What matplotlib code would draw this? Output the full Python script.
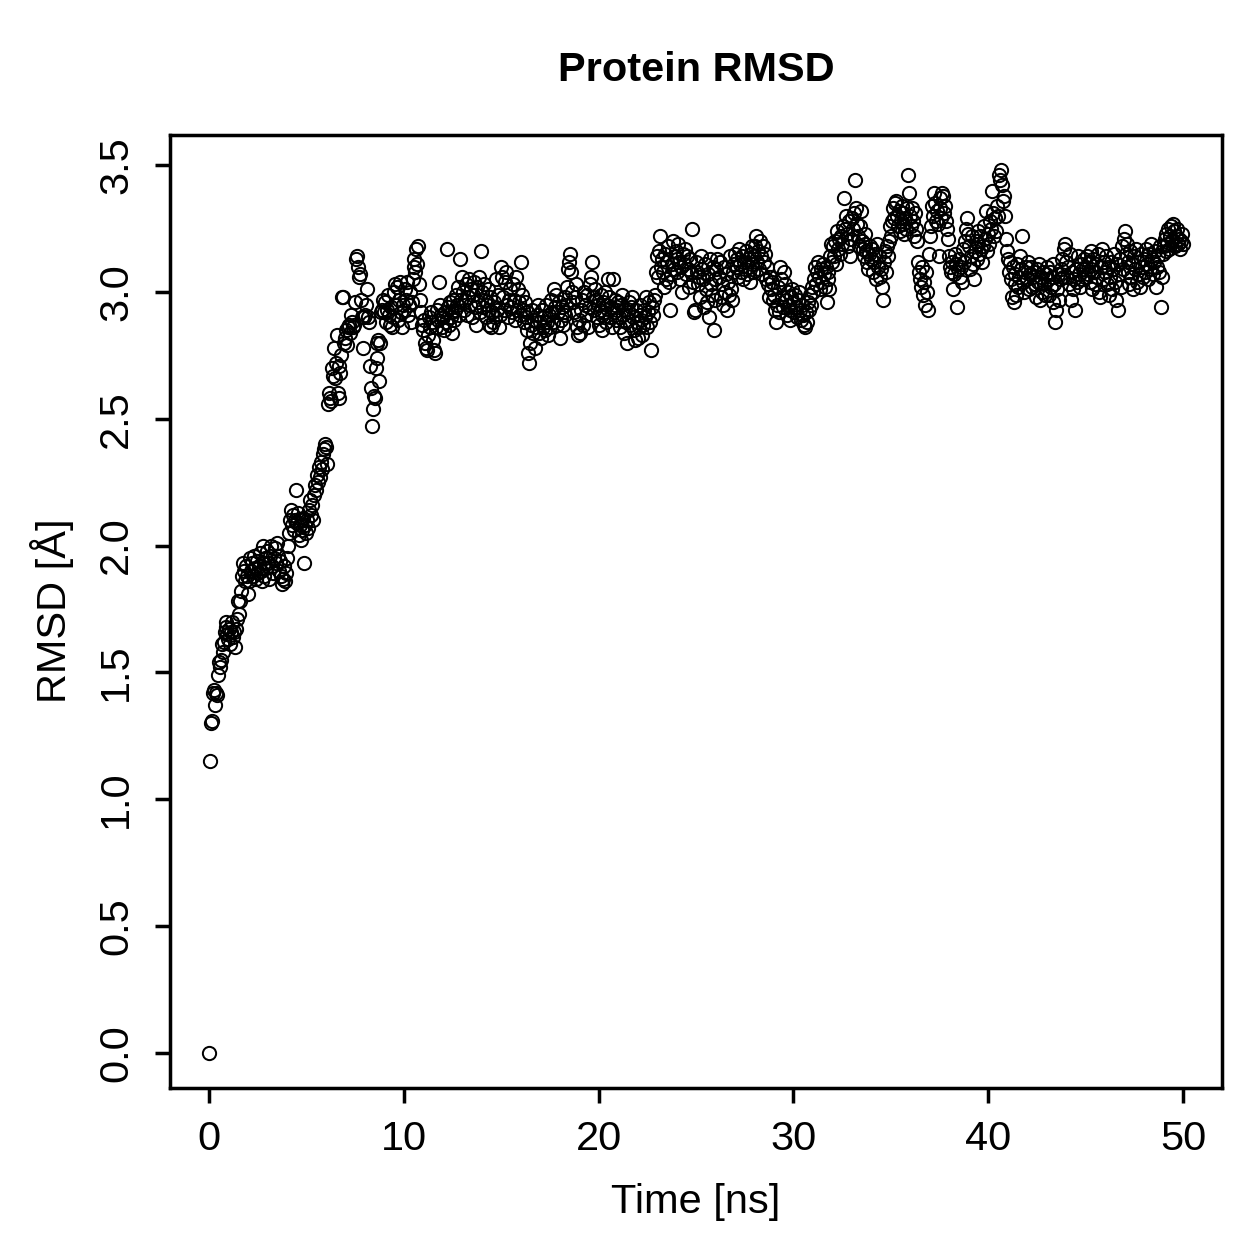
import matplotlib
matplotlib.use('Agg')
import matplotlib.pyplot as plt

plt.rcParams['font.family'] = ['Liberation Sans', 'DejaVu Sans']

# RMSD values, one row per ns (sampled every 0.05 ns)
rmsd_00_10 = [
    [0.00, 1.15, 1.30, 1.31, 1.42, 1.43, 1.37, 1.42, 1.41, 1.49, 1.54, 1.52, 1.55, 1.61, 1.58, 1.62, 1.66, 1.68, 1.70, 1.65],
    [1.63, 1.67, 1.61, 1.66, 1.70, 1.64, 1.66, 1.60, 1.67, 1.71, 1.78, 1.73, 1.78, 1.82, 1.88, 1.93, 1.90, 1.86, 1.92, 1.88],
    [1.81, 1.86, 1.95, 1.90, 1.93, 1.88, 1.96, 1.91, 1.87, 1.94, 1.89, 1.92, 1.97, 1.90, 1.86, 2.00, 1.93, 1.88, 1.95, 1.91],
    [1.98, 1.93, 1.87, 1.96, 2.00, 1.92, 1.89, 1.95, 1.99, 1.93, 2.01, 1.96, 1.90, 1.94, 1.88, 1.85, 1.87, 1.92, 1.86, 1.89],
    [1.95, 2.00, 2.05, 2.10, 2.14, 2.08, 2.12, 2.06, 2.10, 2.22, 2.09, 2.13, 2.04, 2.08, 2.02, 2.10, 2.06, 2.11, 1.93, 2.08],
    [2.05, 2.10, 2.07, 2.14, 2.18, 2.12, 2.16, 2.10, 2.20, 2.24, 2.22, 2.28, 2.25, 2.31, 2.27, 2.33, 2.30, 2.36, 2.38, 2.40],
    [2.39, 2.32, 2.56, 2.60, 2.58, 2.57, 2.70, 2.67, 2.78, 2.66, 2.72, 2.83, 2.60, 2.58, 2.71, 2.68, 2.75, 2.98, 2.98, 2.80],
    [2.82, 2.85, 2.79, 2.86, 2.87, 2.84, 2.91, 2.88, 2.86, 2.87, 2.96, 3.13, 3.14, 3.10, 3.06, 3.07, 2.97, 2.90, 2.78, 2.90],
    [2.91, 2.95, 3.01, 2.90, 2.88, 2.71, 2.62, 2.47, 2.54, 2.59, 2.58, 2.70, 2.80, 2.74, 2.81, 2.65, 2.80, 2.92, 2.93, 2.97],
    [2.92, 2.96, 2.88, 2.93, 2.99, 2.91, 2.87, 2.94, 2.86, 2.90, 3.00, 3.03, 2.95, 3.02, 2.89, 2.97, 3.04, 2.92, 2.86, 2.95],
]
rmsd_10_20 = [
    [2.93, 3.01, 2.97, 3.04, 2.91, 2.95, 3.00, 2.88, 2.96, 3.05, 3.10, 3.13, 3.08, 3.17, 3.11, 3.18, 3.03, 2.97, 2.92, 2.87],
    [2.85, 2.89, 2.80, 2.78, 2.77, 2.83, 2.90, 2.86, 2.92, 2.88, 2.81, 2.77, 2.76, 2.86, 2.93, 2.89, 3.04, 2.95, 2.91, 2.86],
    [2.90, 2.85, 2.92, 2.88, 3.17, 2.94, 2.87, 2.96, 2.90, 2.84, 2.92, 2.97, 2.89, 2.93, 2.99, 2.95, 3.02, 2.91, 3.13, 2.97],
    [3.06, 3.00, 2.93, 2.97, 3.03, 2.91, 2.98, 3.05, 2.95, 3.01, 2.90, 2.99, 3.04, 2.94, 2.87, 3.02, 2.96, 3.06, 2.92, 3.16],
    [3.00, 2.94, 3.03, 2.97, 2.90, 2.95, 3.01, 2.87, 2.93, 2.98, 2.86, 2.92, 2.88, 2.96, 2.90, 3.05, 2.93, 2.99, 2.86, 2.91],
    [3.10, 3.06, 2.98, 2.93, 3.04, 3.08, 2.95, 2.90, 2.97, 3.01, 2.94, 2.92, 3.03, 2.97, 2.89, 3.06, 2.93, 3.01, 2.96, 2.91],
    [3.12, 2.99, 2.93, 2.88, 2.96, 2.90, 2.85, 2.92, 2.76, 2.72, 2.80, 2.87, 2.93, 2.84, 2.89, 2.78, 2.86, 2.91, 2.95, 2.84],
    [2.88, 2.82, 2.93, 2.86, 2.90, 2.85, 2.95, 2.88, 2.83, 2.91, 2.86, 2.97, 2.92, 2.88, 3.01, 2.94, 2.99, 2.87, 2.92, 2.96],
    [2.82, 2.89, 2.94, 2.87, 2.92, 2.98, 2.91, 2.95, 3.02, 3.09, 3.12, 3.15, 3.08, 3.00, 2.96, 2.92, 2.98, 3.03, 2.86, 2.83],
    [2.89, 2.84, 2.93, 2.97, 2.87, 3.00, 2.95, 2.91, 2.99, 2.86, 2.94, 3.03, 3.06, 3.12, 2.98, 2.93, 3.01, 2.97, 2.90, 2.95],
]
rmsd_20_30 = [
    [2.87, 2.93, 2.99, 2.91, 2.85, 2.96, 2.92, 3.00, 2.88, 2.95, 3.05, 2.98, 2.90, 2.94, 2.86, 3.05, 2.92, 2.97, 2.89, 2.93],
    [2.96, 2.90, 2.86, 2.95, 2.99, 2.91, 2.84, 2.93, 2.88, 2.80, 2.92, 2.96, 2.87, 2.94, 2.98, 2.90, 2.85, 2.81, 2.93, 2.88],
    [2.82, 2.86, 2.91, 2.95, 2.89, 2.83, 2.87, 2.93, 2.90, 2.98, 2.86, 2.92, 2.96, 2.88, 2.77, 2.94, 2.91, 2.97, 2.99, 3.08],
    [3.14, 3.06, 3.16, 3.22, 3.10, 3.13, 3.08, 3.02, 3.15, 3.05, 3.12, 3.18, 3.04, 2.93, 3.07, 3.11, 3.20, 3.09, 3.14, 3.16],
    [3.13, 3.08, 3.19, 3.12, 3.05, 3.10, 3.00, 3.15, 3.11, 3.17, 3.07, 3.14, 3.09, 3.02, 3.13, 3.08, 3.25, 3.04, 2.92, 2.93],
    [3.12, 3.08, 3.03, 3.06, 2.98, 3.14, 3.09, 3.05, 2.94, 3.11, 3.01, 2.96, 3.07, 2.90, 3.13, 3.03, 2.99, 3.10, 2.85, 2.97],
    [3.05, 3.09, 3.13, 3.20, 3.06, 3.12, 2.98, 3.03, 2.95, 3.10, 3.00, 3.07, 2.93, 3.04, 2.99, 3.14, 3.01, 2.97, 3.08, 3.11],
    [3.15, 3.10, 3.13, 3.06, 3.17, 3.11, 3.08, 3.14, 3.05, 3.12, 3.09, 3.16, 3.07, 3.13, 3.10, 3.04, 3.15, 3.11, 3.18, 3.08],
    [3.14, 3.18, 3.22, 3.12, 3.16, 3.09, 3.20, 3.14, 3.07, 3.18, 3.12, 3.15, 3.05, 3.10, 3.03, 2.98, 3.06, 3.01, 3.04, 2.97],
    [2.99, 2.93, 2.88, 2.95, 3.02, 2.92, 3.10, 3.05, 2.98, 2.94, 3.08, 3.03, 2.97, 2.91, 3.00, 2.95, 2.89, 2.93, 2.98, 3.01],
]
rmsd_30_40 = [
    [2.96, 2.92, 2.99, 2.94, 2.90, 2.97, 3.00, 2.93, 2.89, 2.95, 2.91, 2.87, 2.86, 2.92, 2.88, 2.96, 2.93, 2.99, 2.95, 3.02],
    [3.00, 3.05, 3.10, 3.03, 3.08, 3.12, 3.06, 3.01, 3.09, 3.04, 3.11, 3.07, 3.02, 3.10, 2.96, 3.05, 3.08, 3.01, 3.14, 3.19],
    [3.12, 3.18, 3.14, 3.20, 3.11, 3.24, 3.17, 3.21, 3.15, 3.22, 3.19, 3.26, 3.37, 3.25, 3.30, 3.23, 3.18, 3.28, 3.14, 3.21],
    [3.29, 3.25, 3.31, 3.44, 3.33, 3.27, 3.22, 3.18, 3.26, 3.32, 3.20, 3.17, 3.14, 3.19, 3.23, 3.16, 3.12, 3.09, 3.15, 3.18],
    [3.13, 3.17, 3.08, 3.12, 3.15, 3.05, 3.19, 3.10, 3.14, 3.06, 3.09, 3.02, 2.97, 3.12, 3.16, 3.08, 3.18, 3.14, 3.20, 3.26],
    [3.22, 3.28, 3.33, 3.29, 3.35, 3.36, 3.30, 3.26, 3.32, 3.24, 3.28, 3.34, 3.31, 3.27, 3.23, 3.29, 3.25, 3.33, 3.46, 3.39],
    [3.30, 3.26, 3.33, 3.28, 3.22, 3.31, 3.25, 3.20, 3.12, 3.08, 3.05, 3.02, 3.10, 2.99, 3.04, 2.95, 3.08, 3.00, 2.93, 3.15],
    [3.22, 3.26, 3.34, 3.30, 3.39, 3.35, 3.28, 3.32, 3.27, 3.14, 3.33, 3.37, 3.29, 3.39, 3.38, 3.31, 3.34, 3.28, 3.25, 3.21],
    [3.14, 3.10, 3.08, 3.12, 3.01, 3.07, 3.15, 3.11, 2.94, 3.09, 3.13, 3.06, 3.10, 3.04, 3.17, 3.12, 3.20, 3.25, 3.29, 3.23],
    [3.18, 3.09, 3.14, 3.22, 3.11, 3.05, 3.16, 3.20, 3.13, 3.24, 3.19, 3.15, 3.22, 3.17, 3.12, 3.18, 3.26, 3.21, 3.32, 3.16],
]
rmsd_40_50 = [
    [3.23, 3.19, 3.28, 3.25, 3.40, 3.31, 3.22, 3.29, 3.24, 3.34, 3.30, 3.46, 3.44, 3.48, 3.42, 3.36, 3.38, 3.30, 3.21, 3.16],
    [3.13, 3.08, 3.12, 3.05, 2.98, 3.10, 2.96, 3.03, 3.07, 2.99, 3.11, 3.02, 3.06, 3.14, 3.09, 3.22, 3.04, 3.00, 3.08, 3.10],
    [3.05, 3.12, 3.01, 3.07, 3.10, 3.02, 3.06, 3.08, 3.03, 2.98, 3.09, 3.04, 3.11, 2.97, 3.06, 3.00, 3.08, 3.03, 2.99, 3.07],
    [3.10, 3.05, 2.99, 3.08, 3.02, 3.06, 3.11, 2.96, 3.03, 2.88, 2.93, 3.01, 3.07, 2.97, 3.05, 3.09, 3.13, 3.06, 3.17, 3.19],
    [3.12, 3.06, 3.10, 3.03, 3.15, 2.97, 3.08, 3.01, 3.05, 2.93, 3.09, 3.04, 3.14, 3.07, 3.02, 3.11, 3.05, 3.09, 3.13, 3.06],
    [3.10, 3.14, 3.07, 3.12, 3.04, 3.16, 3.09, 3.01, 3.13, 3.08, 3.03, 3.11, 3.06, 3.15, 3.00, 2.98, 3.10, 3.17, 3.05, 3.12],
    [3.08, 3.14, 3.03, 3.10, 2.99, 3.06, 3.12, 3.01, 3.09, 3.15, 3.04, 2.97, 3.11, 2.93, 3.07, 3.13, 3.02, 3.18, 3.09, 3.21],
    [3.24, 3.15, 3.19, 3.08, 3.12, 3.03, 3.16, 3.06, 3.11, 3.01, 3.14, 3.09, 3.17, 3.04, 3.12, 3.07, 3.02, 3.15, 3.10, 3.06],
    [3.13, 3.08, 3.17, 3.11, 3.05, 3.15, 3.09, 3.19, 3.13, 3.07, 3.12, 3.16, 3.02, 3.10, 3.14, 3.08, 3.18, 2.94, 3.06, 3.15],
    [3.18, 3.21, 3.16, 3.23, 3.19, 3.25, 3.17, 3.22, 3.26, 3.20, 3.27, 3.24, 3.18, 3.22, 3.25, 3.19, 3.21, 3.17, 3.20, 3.23],
]
rmsd_last = 3.19  # t = 50 ns

dt = 0.05
xticks = [0, 10, 20, 30, 40, 50]
yticks = [0.0, 0.5, 1.0, 1.5, 2.0, 2.5, 3.0, 3.5]

time = []
rmsd = []
for row_ns, row in enumerate(rmsd_00_10 + rmsd_10_20 + rmsd_20_30 + rmsd_30_40 + rmsd_40_50):
    for i, v in enumerate(row):
        time.append(row_ns + i * dt)
        rmsd.append(v)
time.append(50.0)
rmsd.append(rmsd_last)

W = 1259
fig = plt.figure(figsize=(W / 180, W / 180), dpi=180)
ax = fig.add_axes([170 / W, 1 - 1088 / W, (1222 - 170) / W, (1088 - 135) / W])

ax.plot(time, rmsd, 'o', mfc='none', mec='black', ms=5.3, mew=0.8, ls='none')

ax.set_xlim(-2, 52)
ax.set_ylim(-0.139, 3.619)
ax.set_xticks(xticks)
ax.set_xticklabels([str(t) for t in xticks])
ax.set_yticks(yticks)
ax.set_yticklabels(['%.1f' % t for t in yticks], rotation=90, va='center')

for s in ax.spines.values():
    s.set_linewidth(1.4)
ax.tick_params(direction='out', length=6, width=1.4, labelsize=16.6, pad=7)
ax.tick_params(axis='y', pad=8)

fig.text(696 / W, 1 - 70 / W, 'Protein RMSD', ha='center', va='center',
         fontsize=16.6, fontweight='bold')
fig.text(696 / W, 1 - 1202 / W, 'Time [ns]', ha='center', va='center', fontsize=16.6)
fig.text(52 / W, 1 - 611 / W, 'RMSD [Å]', ha='center', va='center',
         rotation=90, fontsize=16.6)

plt.savefig('out.png', dpi=180)
